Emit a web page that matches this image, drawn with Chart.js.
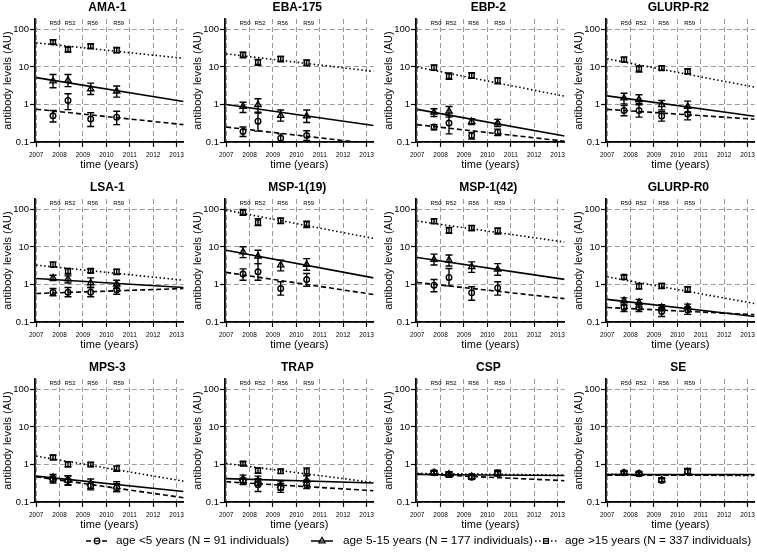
<!DOCTYPE html>
<html>
<head>
<meta charset="utf-8">
<script src="https://cdn.jsdelivr.net/npm/chart.js@4.4.1/dist/chart.umd.min.js"></script>
<style>
  html, body { margin: 0; padding: 0; background: #fff; width: 757px; height: 556px; overflow: hidden; }
  canvas { position: absolute; }
  #legend { left: 0; top: 526px; }
</style>
</head>
<body>
<canvas id="legend" width="757" height="30"></canvas>
<script>
/* antibody decay panels – one small chart per antigen */

const PANEL_NAMES = ['AMA-1', 'EBA-175', 'EBP-2', 'GLURP-R2', 'LSA-1', 'MSP-1(19)', 'MSP-1(42)', 'GLURP-R0', 'MPS-3', 'TRAP', 'CSP', 'SE'];
const ROUND_X = [2007.72, 2008.36, 2009.33, 2010.44];
const ROUND_LABELS = ['R50', 'R52', 'R56', 'R59'];
const FIT_X = [2007, 2013.3];
const YEAR_TICKS = [2007, 2008, 2009, 2010, 2011, 2012, 2013];
const LOG_TICKS = [0.1, 1, 10, 100];

// age <5 years (circles)
const LT5_MEAN = [
  [0.5, 1.28, 0.41, 0.46], [0.19, 0.36, 0.126, 0.149], [0.25, 0.32, 0.149, 0.183], [0.69, 0.69, 0.49, 0.56],
  [0.62, 0.62, 0.62, 0.72], [1.89, 2.18, 0.78, 1.36], [0.96, 1.54, 0.6, 0.81], [0.244, 0.244, 0.19, 0.21],
  [0.4, 0.38, 0.27, 0.24], [0.36, 0.29, 0.24, 0.29], [0.6, 0.55, 0.46, 0.58], [0.6, 0.57, 0.38, 0.65],
];
const LT5_LO = [
  [0.34, 0.73, 0.26, 0.29], [0.14, 0.195, 0.1, 0.11], [0.21, 0.165, 0.12, 0.149], [0.5, 0.46, 0.36, 0.39],
  [0.5, 0.47, 0.47, 0.55], [1.3, 1.3, 0.52, 0.9], [0.64, 0.92, 0.38, 0.52], [0.19, 0.19, 0.14, 0.16],
  [0.32, 0.29, 0.21, 0.19], [0.29, 0.19, 0.18, 0.23], [0.54, 0.48, 0.4, 0.51], [0.54, 0.52, 0.34, 0.56],
];
const LT5_HI = [
  [0.69, 1.93, 0.6, 0.66], [0.25, 0.59, 0.165, 0.2], [0.29, 0.51, 0.18, 0.22], [0.94, 1.08, 0.65, 0.8],
  [0.78, 0.83, 0.83, 0.95], [2.6, 3.6, 1.18, 1.97], [1.36, 2.67, 0.87, 1.18], [0.3, 0.31, 0.24, 0.25],
  [0.49, 0.5, 0.35, 0.31], [0.44, 0.42, 0.31, 0.38], [0.67, 0.63, 0.53, 0.66], [0.67, 0.63, 0.43, 0.76],
];
const LT5_FIT = [
  [0.75, 0.29], [0.25, 0.088], [0.29, 0.105], [0.74, 0.405], [0.575, 0.78], [2.1, 0.54],
  [1.13, 0.42], [0.244, 0.157], [0.47, 0.13], [0.345, 0.2], [0.56, 0.37], [0.52, 0.52],
];

// age 5-15 years (triangles)
const MID_MEAN = [
  [4.2, 4.4, 2.6, 2.27], [0.88, 0.99, 0.51, 0.49], [0.62, 0.66, 0.35, 0.32], [1.48, 1.36, 0.98, 0.88],
  [1.5, 1.39, 1.1, 1.02], [7.4, 5.7, 3.3, 3.4], [4.6, 4.45, 2.96, 2.56], [0.37, 0.33, 0.244, 0.25],
  [0.45, 0.38, 0.31, 0.26], [0.42, 0.38, 0.28, 0.38], [0.6, 0.55, 0.48, 0.57], [0.59, 0.57, 0.39, 0.64],
];
const MID_LO = [
  [2.8, 3.0, 1.85, 1.57], [0.61, 0.62, 0.36, 0.33], [0.48, 0.46, 0.29, 0.26], [1.04, 0.98, 0.72, 0.62],
  [1.28, 1.1, 0.83, 0.78], [5.2, 3.6, 2.3, 2.4], [3.3, 3.1, 2.1, 1.77], [0.28, 0.25, 0.2, 0.21],
  [0.36, 0.28, 0.23, 0.19], [0.33, 0.28, 0.21, 0.28], [0.54, 0.47, 0.42, 0.5], [0.54, 0.53, 0.35, 0.55],
];
const MID_HI = [
  [6.3, 6.3, 3.7, 3.1], [1.15, 1.42, 0.71, 0.71], [0.77, 0.88, 0.42, 0.4], [2.0, 1.81, 1.28, 1.23],
  [1.77, 1.7, 1.5, 1.3], [10.1, 8.2, 4.45, 4.9], [6.45, 6.1, 4.0, 3.6], [0.44, 0.4, 0.29, 0.3],
  [0.54, 0.5, 0.41, 0.35], [0.52, 0.49, 0.36, 0.5], [0.66, 0.64, 0.55, 0.65], [0.65, 0.62, 0.44, 0.75],
];
const MID_FIT = [
  [5.2, 1.2], [1.0, 0.275], [0.74, 0.145], [1.7, 0.485], [1.45, 0.83], [8.2, 1.5],
  [5.25, 1.37], [0.4, 0.14], [0.49, 0.19], [0.42, 0.32], [0.54, 0.51], [0.54, 0.54],
];

// age >15 years (squares)
const GT15_MEAN = [
  [46, 29.5, 36, 28], [21, 13.5, 16.5, 12.9], [9.5, 5.7, 5.9, 4.37], [15.8, 8.9, 9.3, 7.6],
  [3.4, 2.27, 2.31, 2.18], [83, 45, 50, 40.6], [49, 28, 32, 27], [1.6, 0.9, 0.92, 0.75],
  [1.54, 1.0, 1.0, 0.78], [1.06, 0.69, 0.66, 0.66], [0.61, 0.54, 0.47, 0.61], [0.6, 0.57, 0.38, 0.66],
];
const GT15_LO = [
  [41, 25, 31, 24], [17.5, 11, 13.7, 10.8], [8.1, 4.7, 5.0, 3.55], [13.5, 7.3, 8.1, 6.6],
  [2.96, 1.89, 2.05, 1.85], [70, 37, 42, 33], [42, 23, 27.5, 22], [1.36, 0.75, 0.78, 0.62],
  [1.33, 0.87, 0.88, 0.66], [0.96, 0.58, 0.58, 0.52], [0.55, 0.48, 0.42, 0.53], [0.55, 0.53, 0.34, 0.55],
];
const GT15_HI = [
  [53, 34, 41, 33], [24.9, 15.8, 19.1, 15.5], [11.4, 6.9, 7.0, 5.1], [18.3, 10.7, 10.7, 8.8],
  [3.95, 2.67, 2.62, 2.56], [100, 57, 59, 49], [56, 33, 37.5, 32], [1.77, 1.06, 1.06, 0.87],
  [1.77, 1.18, 1.13, 0.92], [1.18, 0.81, 0.75, 0.81], [0.68, 0.6, 0.53, 0.69], [0.66, 0.61, 0.42, 0.78],
];
const GT15_FIT = [
  [44, 17], [22.4, 7.6], [9.9, 1.66], [16.5, 2.9], [3.28, 1.3], [96, 16.9],
  [49, 13.5], [1.6, 0.31], [1.67, 0.36], [1.06, 0.33], [0.58, 0.52], [0.55, 0.5],
];

const LEGEND_LABELS = [
  'age <5 years (N = 91 individuals)',
  'age 5-15 years (N = 177 individuals)',
  'age >15 years (N = 337 individuals)',
];

const FONT = '"Liberation Sans", Arial, Helvetica, sans-serif';
Chart.defaults.font.family = FONT;
Chart.defaults.color = '#000';

const SERIES = [
  { mean: LT5_MEAN,  lo: LT5_LO,  hi: LT5_HI,  fit: LT5_FIT,  style: 'circle',   radius: 2.8, dash: [5, 3] },
  { mean: MID_MEAN,  lo: MID_LO,  hi: MID_HI,  fit: MID_FIT,  style: 'triangle', radius: 3.6, dash: [] },
  { mean: GT15_MEAN, lo: GT15_LO, hi: GT15_HI, fit: GT15_FIT, style: 'rect',     radius: 3.4, dash: [1.5, 2.5] },
];

const COL_LEFT = [0, 190, 381, 571];
const ROW_TOP  = [0, 180, 360];

// error bars read from dataset.errLo / errHi through the panel scales
const errorBars = {
  id: 'errorBars',
  afterDatasetsDraw(chart) {
    const { ctx, scales: { x, y } } = chart;
    ctx.save();
    ctx.strokeStyle = '#000';
    ctx.lineWidth = 1.4;
    chart.data.datasets.forEach(ds => {
      if (!ds.errLo) return;
      ds.data.forEach((pt, i) => {
        const px = x.getPixelForValue(pt.x);
        const y1 = y.getPixelForValue(ds.errLo[i]);
        const y2 = y.getPixelForValue(ds.errHi[i]);
        ctx.beginPath();
        ctx.moveTo(px, y1); ctx.lineTo(px, y2);
        ctx.moveTo(px - 3.5, y1); ctx.lineTo(px + 3.5, y1);
        ctx.moveTo(px - 3.5, y2); ctx.lineTo(px + 3.5, y2);
        ctx.stroke();
      });
    });
    ctx.restore();
  },
};

// panel name + survey round labels
const panelText = {
  id: 'panelText',
  afterDraw(chart, args, opts) {
    const { ctx, chartArea, scales: { x } } = chart;
    ctx.save();
    ctx.fillStyle = '#000';
    ctx.textAlign = 'center';
    ctx.textBaseline = 'middle';
    ctx.font = `bold 12px ${FONT}`;
    ctx.fillText(opts.title, (chartArea.left + chartArea.right) / 2 - 2, chartArea.top - 11.5);
    ctx.font = `6px ${FONT}`;
    ROUND_LABELS.forEach((t, i) => {
      ctx.fillText(t, x.getPixelForValue(ROUND_X[i]) + 2, chartArea.top + 4.5);
    });
    ctx.restore();
  },
};

function axisCommon() {
  return {
    grid: { color: '#999', lineWidth: 1, tickColor: '#000', tickLength: 5, tickWidth: 1.2 },
    border: { color: '#000', width: 1.8, dash: [5, 3] },
  };
}

PANEL_NAMES.forEach((name, p) => {
  const cv = document.createElement('canvas');
  cv.width = 188; cv.height = 180;
  cv.style.left = COL_LEFT[p % 4] + 'px';
  cv.style.top  = ROW_TOP[Math.floor(p / 4)] + 'px';
  document.body.appendChild(cv);

  const datasets = [];
  SERIES.forEach(s => {
    datasets.push({
      data: FIT_X.map((x, i) => ({ x, y: s.fit[p][i] })),
      showLine: true, pointRadius: 0,
      borderColor: '#000', borderWidth: 1.6, borderDash: s.dash,
    });
  });
  SERIES.forEach(s => {
    datasets.push({
      data: ROUND_X.map((x, i) => ({ x, y: s.mean[p][i] })),
      pointStyle: s.style, pointRadius: s.radius,
      pointBorderColor: '#000', pointBorderWidth: 1.4, pointBackgroundColor: '#fff',
      errLo: s.lo[p], errHi: s.hi[p],
    });
  });

  new Chart(cv.getContext('2d'), {
    type: 'scatter',
    data: { datasets },
    plugins: [errorBars, panelText],
    options: {
      responsive: false,
      animation: false,
      layout: { padding: { top: 19, left: 0, right: 4, bottom: 4 }, autoPadding: false },
      plugins: { legend: { display: false }, tooltip: { enabled: false }, panelText: { title: name } },
      scales: {
        x: {
          type: 'linear', min: 2006.95, max: 2013.3,
          ...axisCommon(),
          afterBuildTicks: sc => { sc.ticks = YEAR_TICKS.map(v => ({ value: v })); },
          afterFit: sc => { sc.height = 34; },
          ticks: { font: { size: 6.5 }, padding: 4, maxRotation: 0, callback: v => String(v) },
          title: { display: true, text: 'time (years)', font: { size: 11 }, padding: { top: 0, bottom: 4 } },
        },
        y: {
          type: 'logarithmic', min: 0.1, max: 190,
          ...axisCommon(),
          afterBuildTicks: sc => { sc.ticks = LOG_TICKS.map(v => ({ value: v })); },
          afterFit: sc => { sc.width = 35; },
          ticks: { font: { size: 9.5 }, padding: 1, callback: v => String(v) },
          title: { display: true, text: 'antibody levels (AU)', font: { size: 11 }, padding: { top: 1, bottom: 0 } },
        },
      },
    },
  });
});

// shared legend along the bottom
(function drawLegend() {
  const ctx = document.getElementById('legend').getContext('2d');
  const cy = 15;
  const sampleX = [86, 311, 535];
  const textX = [116, 343, 565];
  ctx.strokeStyle = '#000';
  ctx.fillStyle = '#000';
  SERIES.forEach((s, i) => {
    ctx.save();
    ctx.lineWidth = 1.5;
    ctx.setLineDash(s.dash);
    ctx.beginPath();
    ctx.moveTo(sampleX[i], cy); ctx.lineTo(sampleX[i] + 22, cy);
    ctx.stroke();
    ctx.setLineDash([]);
    ctx.lineWidth = 1.2;
    ctx.fillStyle = '#fff';
    Chart.helpers.drawPoint(ctx, { pointStyle: s.style, radius: s.radius, borderWidth: 1.2 }, sampleX[i] + 11, cy);
    ctx.beginPath();
    ctx.moveTo(sampleX[i] + 8, cy); ctx.lineTo(sampleX[i] + 14, cy);
    ctx.stroke();
    ctx.restore();
    ctx.font = `11.8px ${FONT}`;
    ctx.textBaseline = 'middle';
    ctx.fillText(LEGEND_LABELS[i], textX[i], cy);
  });
})();
</script>
</body>
</html>
